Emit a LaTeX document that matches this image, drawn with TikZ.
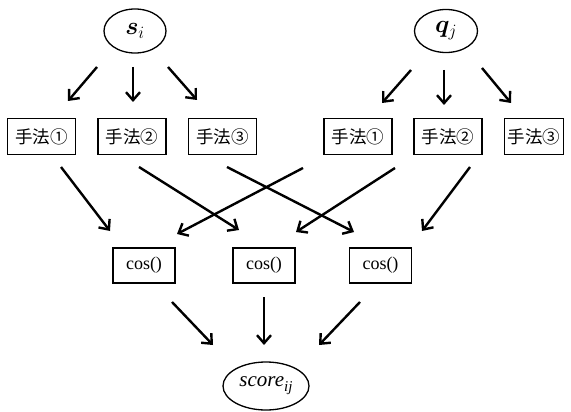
\documentclass[tikz,border=0pt]{standalone}
\usepackage{bm}
\usepackage{fontspec}
\newfontfamily\jp{Noto Sans CJK JP}
\newfontfamily\cosfont{Liberation Serif}
\usetikzlibrary{arrows.meta,calc,shapes.geometric}
\begin{document}
\begin{tikzpicture}[x=1pt,y=-1pt,
  method/.style={draw,line width=1.5pt,minimum height=36pt,minimum width=68pt,inner sep=1pt,font=\jp\fontsize{17.5}{19}\selectfont},
  cosbox/.style={draw,line width=1.5pt,minimum height=35pt,minimum width=62pt,inner sep=2pt,font=\cosfont\fontsize{18}{20}\selectfont},
  oval/.style={draw,ellipse,line width=1.3pt,inner sep=0pt},
  arr/.style={line width=2.4pt,-{Straight Barb[length=8pt,width=14pt,line width=2.4pt]}}]
\useasboundingbox (0,0) rectangle (571,412);
\node[oval,minimum width=62pt,minimum height=44pt,font=\fontsize{27}{29}\selectfont] (si) at (135,31) {$\bm{s}_i$};
\node[oval,minimum width=63pt,minimum height=43pt,font=\fontsize{27}{29}\selectfont] (qj) at (446,31) {$\bm{q}_j$};
\node[method] (s1) at (41.5,136.5) {手法①};
\node[method] (s2) at (132,136.5) {手法②};
\node[method] (s3) at (222.5,136.5) {手法③};
\node[method] (q1) at (358,136.5) {手法①};
\node[method] (q2) at (448,136.5) {手法②};
\node[method,minimum width=59pt] (q3) at (534,136.5) {手法③};
\node[cosbox] (c1) at (144,265.5) {cos()};
\node[cosbox] (c2) at (264,265.5) {cos()};
\node[cosbox] (c3) at (380.5,265.5) {cos()};
\node[oval,minimum width=86pt,minimum height=48pt,font=\cosfont\fontsize{21}{23}\selectfont] (sc) at (266,386) {\textit{score}\raisebox{-5pt}{\fontsize{15}{16}\selectfont\textit{ij}}};
% top arrows
\draw[arr] ($(si)+(-38,36)$) -- ($(s1)+(26.5,-35.5)$);
\draw[arr] ($(si)+(-2,36)$) -- ($(s2)+(1,-34.5)$);
\draw[arr] ($(si)+(33,36)$) -- ($(s3)+(-25.5,-36.5)$);
\draw[arr] ($(qj)+(-35,39)$) -- ($(q1)+(24,-33.5)$);
\draw[arr] ($(qj)+(-2,39)$) -- ($(q2)+(-4,-31.5)$);
\draw[arr] ($(qj)+(36,37)$) -- ($(q3)+(-23,-33.5)$);
% middle arrows
\draw[arr] ($(s1)+(19.5,30.5)$) -- ($(c1)+(-34,-34.5)$);
\draw[arr] ($(s2)+(7,30.5)$) -- ($(c2)+(-25,-35.5)$);
\draw[arr] ($(s3)+(4.5,30.5)$) -- ($(c3)+(-26.5,-33.5)$);
\draw[arr] ($(q1)+(-55,31.5)$) -- ($(c1)+(33,-31.5)$);
\draw[arr] ($(q2)+(-53,31.5)$) -- ($(c2)+(32,-33.5)$);
\draw[arr] ($(q3)+(-64,30.5)$) -- ($(c3)+(41.5,-34.5)$);
% bottom arrows
\draw[arr] ($(c1)+(28,36.5)$) -- ($(sc)+(-53,-41)$);
\draw[arr] ($(c2)+(0,31.5)$) -- ($(sc)+(-2,-41)$);
\draw[arr] ($(c3)+(-20.5,36.5)$) -- ($(sc)+(53,-41)$);
\end{tikzpicture}
\end{document}
